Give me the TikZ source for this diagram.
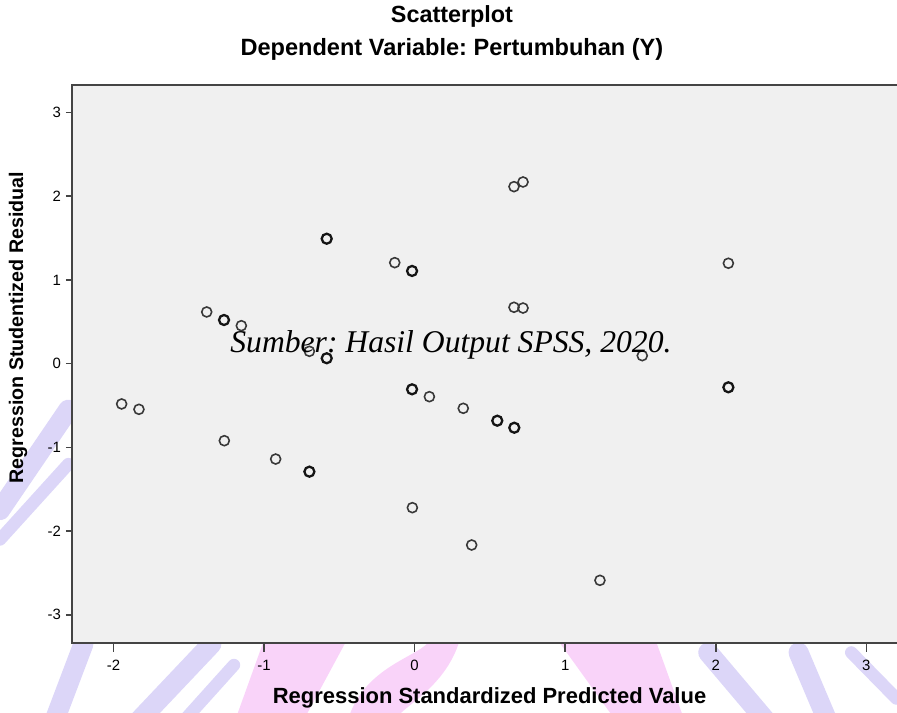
\documentclass[tikz,border=0pt]{standalone}
\usepackage{fontspec}
\setmainfont{Liberation Sans}
\newfontfamily\serifit{Liberation Serif}
\usetikzlibrary{positioning,calc}
\definecolor{plotbg}{HTML}{F0F0F0}
\definecolor{axisgray}{HTML}{444444}
\definecolor{wmpurple}{HTML}{DCD6F8}
\definecolor{wmpink}{HTML}{F9D3F9}
\frenchspacing

\begin{document}
\begin{tikzpicture}[x=3.011cm,y=1.674cm,
   pt/.style={circle,draw=black!78,line width=0.9pt,inner sep=0pt,minimum size=2mm},
   dup/.style={pt,draw=black!92,line width=1.3pt},
   ticklbl/.style={font=\fontsize{8.5}{10}\selectfont,inner sep=1pt},
   axlbl/.style={font=\bfseries\fontsize{12.5}{14}\selectfont,inner sep=0pt},
   wm/.style={line width=4mm,line cap=round}]
   \useasboundingbox (-2.754,-4.173) rectangle (3.204,4.345);
   % faint seal behind the plot
   \begin{scope}
     \clip (-2.754,-4.173) rectangle (3.204,4.345);
     \draw[wm,wmpurple] (-2.754,-1.75) -- (-2.30,-0.55);
     \draw[wm,wmpurple,line width=2.5mm] (-2.754,-2.10) -- (-2.30,-1.20);
     \draw[wm,wmpurple] (-2.40,-4.3) -- (-2.20,-3.35);
     \draw[wm,wmpurple] (-1.85,-4.3) -- (-1.35,-3.35);
     \draw[wm,wmpurple,line width=2.5mm] (-1.55,-4.3) -- (-1.20,-3.60);
     \fill[wmpink] (-1.20,-4.3) -- (-1.00,-3.3) -- (-0.45,-3.3) -- (-0.75,-4.3) -- cycle;
     \fill[wmpink] (-0.45,-4.3) .. controls (-0.35,-3.6) and (0.05,-3.5) .. (0.10,-3.3) -- (0.30,-3.3) .. controls (0.20,-3.9) and (-0.10,-4.1) .. (-0.15,-4.3) -- cycle;
     \fill[wmpink] (0.95,-3.3) -- (1.60,-3.3) -- (1.80,-4.3) -- (1.35,-4.3) -- cycle;
     \draw[wm,wmpurple] (1.95,-3.45) -- (2.35,-4.3);
     \draw[wm,wmpurple] (2.55,-3.45) -- (2.75,-4.3);
     \draw[wm,wmpurple,line width=2.5mm] (2.90,-3.45) -- (3.20,-4.0);
   \end{scope}
   % plot area
   \fill[plotbg] (-2.278,-3.333) rectangle (3.204,3.333);
   \draw[axisgray,line width=1pt] (3.204,3.333) -- (-2.278,3.333) -- (-2.278,-3.333) -- (3.204,-3.333);
   % titles
   \node (title) at (0.248,4.15) [font=\bfseries\fontsize{13.3}{15}\selectfont] {Scatterplot};
   \node (subtitle) at (0.248,3.75) [font=\bfseries\fontsize{13.4}{15}\selectfont] {Dependent Variable: Pertumbuhan (Y)};
   % y axis
   \path (-2.335,3) node (y3) [ticklbl,anchor=east] {3}
         (-2.335,2) node (y2) [ticklbl,anchor=east] {2}
         (-2.335,1) node (y1) [ticklbl,anchor=east] {1}
         (-2.335,0) node (y0) [ticklbl,anchor=east] {0}
         (-2.335,-1) node (ym1) [ticklbl,anchor=east] {-1}
         (-2.335,-2) node (ym2) [ticklbl,anchor=east] {-2}
         (-2.335,-3) node (ym3) [ticklbl,anchor=east] {-3};
   \draw[axisgray,line width=0.9pt] (-2.317,3) -- (-2.278,3)
         (-2.317,2) -- (-2.278,2) (-2.317,1) -- (-2.278,1) (-2.317,0) -- (-2.278,0)
         (-2.317,-1) -- (-2.278,-1) (-2.317,-2) -- (-2.278,-2) (-2.317,-3) -- (-2.278,-3);
   \node (ylab) at (-2.634,0.43) [axlbl,rotate=90,font=\bfseries\fontsize{11.2}{13}\selectfont] {Regression Studentized Residual};
   % x axis
   \path (-2,-3.6) node (xm2) [ticklbl] {-2}
         (-1,-3.6) node (xm1) [ticklbl] {-1}
         (0,-3.6) node (x0) [ticklbl] {0}
         (1,-3.6) node (x1) [ticklbl] {1}
         (2,-3.6) node (x2) [ticklbl] {2}
         (3,-3.6) node (x3) [ticklbl] {3};
   \draw[axisgray,line width=0.9pt] (-2,-3.333) -- (-2,-3.45) (-1,-3.333) -- (-1,-3.45)
         (0,-3.333) -- (0,-3.45) (1,-3.333) -- (1,-3.45) (2,-3.333) -- (2,-3.45) (3,-3.333) -- (3,-3.45);
   \node (xlab) at (0.4975,-3.994) [axlbl] {Regression Standardized Predicted Value};
   % residuals
   \path (-1.946,-0.481) node (p1) [pt] {}
         (-1.831,-0.545) node (p2) [pt] {}
         (-1.381,0.618) node (p3) [pt] {}
         (-1.266,0.522) node (p4) [dup] {}
         (-1.151,0.454) node (p5) [pt] {}
         (-0.699,0.148) node (p6) [pt] {}
         (-0.584,0.065) node (p7) [dup] {}
         (-1.264,-0.920) node (p8) [pt] {}
         (-0.923,-1.139) node (p9) [pt] {}
         (-0.699,-1.290) node (p10) [dup] {}
         (-0.584,1.493) node (p11) [dup] {}
         (-0.132,1.207) node (p12) [pt] {}
         (-0.017,1.108) node (p13) [dup] {}
         (-0.017,-0.306) node (p14) [dup] {}
         (0.098,-0.394) node (p15) [pt] {}
         (0.323,-0.533) node (p16) [pt] {}
         (0.549,-0.681) node (p17) [dup] {}
         (0.662,-0.765) node (p18) [dup] {}
         (0.660,2.115) node (p19) [pt] {}
         (0.720,2.171) node (p20) [pt] {}
         (0.660,0.674) node (p21) [pt] {}
         (0.720,0.665) node (p22) [pt] {}
         (-0.015,-1.720) node (p23) [pt] {}
         (0.379,-2.166) node (p24) [pt] {}
         (1.231,-2.588) node (p25) [pt] {}
         (1.512,0.096) node (p26) [pt] {}
         (2.084,1.200) node (p27) [pt] {}
         (2.084,-0.282) node (p28) [dup] {};
   % source note
   \node (source) at (-1.226,0.136) [anchor=base west,inner sep=0pt,font=\serifit\itshape\fontsize{18}{20}\selectfont] {Sumber: Hasil Output SPSS, 2020.};
\end{tikzpicture}
\end{document}
